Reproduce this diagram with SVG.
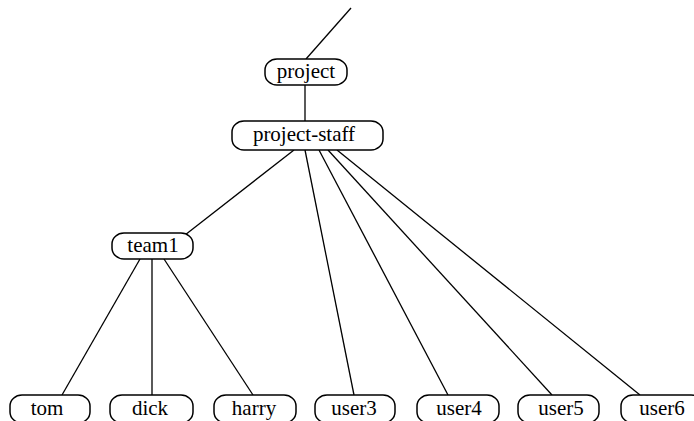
<svg xmlns="http://www.w3.org/2000/svg" width="694" height="421" viewBox="0 0 694 421">
<style>
.n rect{fill:#fff;stroke:#000;stroke-width:1.5}
.n text{font-family:"Liberation Serif","DejaVu Serif",serif;font-size:21px;text-anchor:middle;fill:#000}
#edges line{stroke:#000;stroke-width:1.3}
</style>
<rect width="694" height="421" fill="#fff"/>
<g id="edges">
<line x1="351" y1="8" x2="306" y2="59"/>
<line x1="305" y1="85" x2="305" y2="121"/>
<line x1="294" y1="150" x2="185" y2="235"/>
<line x1="305" y1="150" x2="354" y2="395"/>
<line x1="319" y1="150" x2="448" y2="395"/>
<line x1="328" y1="150" x2="552" y2="395"/>
<line x1="337" y1="150" x2="640" y2="395"/>
<line x1="140" y1="259" x2="62" y2="395"/>
<line x1="152" y1="259" x2="152" y2="395"/>
<line x1="164" y1="259" x2="253" y2="395"/>
</g>
<g id="project" class="n"><rect x="265" y="59" width="82" height="26" rx="12" ry="11"/><text x="306" y="78">project</text></g>
<g id="project-staff" class="n"><rect x="232" y="121" width="151" height="29" rx="12" ry="11"/><text x="304" y="141">project-staff</text></g>
<g id="team1" class="n"><rect x="112" y="233" width="81" height="26" rx="12" ry="11"/><text x="153" y="252">team1</text></g>
<g id="tom" class="n"><rect x="10" y="395" width="80" height="28" rx="12" ry="11"/><text x="47" y="415">tom</text></g>
<g id="dick" class="n"><rect x="110" y="395" width="83" height="28" rx="12" ry="11"/><text x="150" y="415">dick</text></g>
<g id="harry" class="n"><rect x="214" y="395" width="82" height="28" rx="12" ry="11"/><text x="254" y="415">harry</text></g>
<g id="user3" class="n"><rect x="315" y="395" width="80" height="28" rx="12" ry="11"/><text x="354" y="415">user3</text></g>
<g id="user4" class="n"><rect x="417" y="395" width="82" height="28" rx="12" ry="11"/><text x="459" y="415">user4</text></g>
<g id="user5" class="n"><rect x="518" y="395" width="81" height="28" rx="12" ry="11"/><text x="561" y="415">user5</text></g>
<g id="user6" class="n"><rect x="621" y="395" width="82" height="28" rx="12" ry="11"/><text x="662" y="415">user6</text></g>
</svg>
